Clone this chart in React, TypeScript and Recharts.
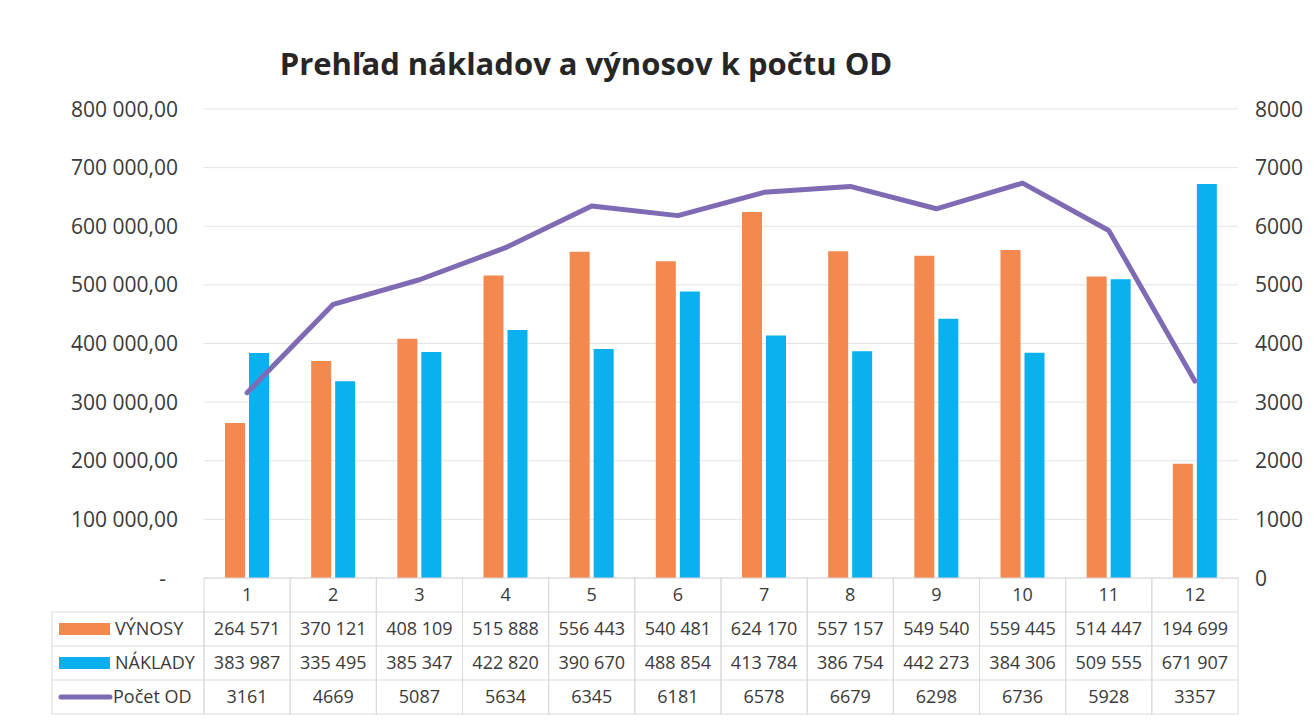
import React from 'react';
import { ComposedChart, Bar, Line, XAxis, YAxis, CartesianGrid } from 'recharts';

const categories = ['1', '2', '3', '4', '5', '6', '7', '8', '9', '10', '11', '12'];
const vynosy = [264571, 370121, 408109, 515888, 556443, 540481, 624170, 557157, 549540, 559445, 514447, 194699];
const naklady = [383987, 335495, 385347, 422820, 390670, 488854, 413784, 386754, 442273, 384306, 509555, 671907];
const pocetOD = [3161, 4669, 5087, 5634, 6345, 6181, 6578, 6679, 6298, 6736, 5928, 3357];
const leftTicks = [0, 100000, 200000, 300000, 400000, 500000, 600000, 700000, 800000];
const rightTicks = [0, 1000, 2000, 3000, 4000, 5000, 6000, 7000, 8000];
const seriesNames = ['VÝNOSY', 'NÁKLADY', 'Počet OD'];
const title = 'Prehľad nákladov a výnosov k počtu OD';

const data = categories.map((c, i) => ({ name: c, vynosy: vynosy[i], naklady: naklady[i], pocet: pocetOD[i] }));

const W = 1316;
const H = 723;
const PLOT_LEFT = 204;
const PLOT_RIGHT = 1238;
const PLOT_TOP = 109;
const PLOT_BOTTOM = 578;
const ROW_H = 34;
const COL_W = (PLOT_RIGHT - PLOT_LEFT) / categories.length;
const FONT = '"Open Sans", sans-serif';
const TEXT = '#3a3a3a';
const GRID = '#e4e4e4';
const BORDER = '#dadada';
const ORANGE = '#F4894F';
const BLUE = '#0BB0EF';
const PURPLE = '#7E6BB4';

function group(n: number): string {
  const s = Math.round(n).toString();
  return s.replace(/\B(?=(\d{3})+(?!\d))/g, ' ');
}
function fmtLeft(n: number): string {
  if (n === 0) return '-';
  return group(n) + ',00';
}

function LeftTick(props: any) {
  const { x, y, payload } = props;
  const zero = payload.value === 0;
  return (
    <text x={x + (zero ? -12 : 0)} y={y} dy="0.36em" textAnchor="end" fill={TEXT} fontSize={21} fontFamily={FONT}>
      {fmtLeft(payload.value)}
    </text>
  );
}

function RightTick(props: any) {
  const { x, y, payload } = props;
  return (
    <text x={x} y={y} dy="0.36em" textAnchor="start" fill={TEXT} fontSize={21} fontFamily={FONT}>
      {payload.value}
    </text>
  );
}

function TableTick(props: any) {
  const { x, y, payload, index } = props;
  const top = y;
  const left = x - COL_W / 2;
  const values = [group(vynosy[index]), group(naklady[index]), String(pocetOD[index])];
  const legendLeft = 52;
  return (
    <g>
      <rect x={left} y={top} width={COL_W} height={ROW_H * 4} fill="none" stroke={BORDER} strokeWidth={1} />
      {[1, 2, 3].map((r) => (
        <line key={r} x1={left} x2={left + COL_W} y1={top + ROW_H * r} y2={top + ROW_H * r} stroke={BORDER} strokeWidth={1} />
      ))}
      <text x={x} y={top + ROW_H / 2} dy="0.36em" textAnchor="middle" fill={TEXT} fontSize={18} fontFamily={FONT}>
        {payload.value}
      </text>
      {values.map((v, r) => (
        <text key={r} x={x} y={top + ROW_H * (r + 1.5)} dy="0.36em" textAnchor="middle" fill={TEXT} fontSize={18} fontFamily={FONT}>
          {v}
        </text>
      ))}
      {index === 0 && (
        <g>
          <rect x={legendLeft} y={top + ROW_H} width={left - legendLeft} height={ROW_H * 3} fill="none" stroke={BORDER} strokeWidth={1} />
          {[2, 3].map((r) => (
            <line key={r} x1={legendLeft} x2={left} y1={top + ROW_H * r} y2={top + ROW_H * r} stroke={BORDER} strokeWidth={1} />
          ))}
          <rect x={59} y={top + ROW_H * 1.5 - 6} width={51} height={12} fill={ORANGE} />
          <rect x={59} y={top + ROW_H * 2.5 - 6} width={51} height={12} fill={BLUE} />
          <line x1={61} x2={110} y1={top + ROW_H * 3.5} y2={top + ROW_H * 3.5} stroke={PURPLE} strokeWidth={5} strokeLinecap="round" />
          {seriesNames.map((s, r) => (
            <text key={s} x={r === 2 ? 113 : 115} y={top + ROW_H * (r + 1.5)} dy="0.36em" textAnchor="start" fill={TEXT} fontSize={18} fontFamily={FONT}>
              {s}
            </text>
          ))}
        </g>
      )}
    </g>
  );
}

export default function App() {
  return (
    <div style={{ position: 'absolute', left: 0, top: 0, width: W, height: H, background: '#fff', fontFamily: FONT }}>
      <svg width={W} height={100} style={{ position: 'absolute', left: 0, top: 0 }}>
        <text x={586} y={75} textAnchor="middle" fontSize={31} fontWeight={700} fill="#262626" fontFamily={FONT}>
          {title}
        </text>
      </svg>
      <div style={{ position: 'absolute', left: 0, top: 0 }}>
        <ComposedChart
          width={W}
          height={H}
          data={data}
          margin={{ top: PLOT_TOP, right: 0, bottom: 0, left: 0 }}
          barGap={4}
          barSize={20}
        >
          <CartesianGrid vertical={false} stroke={GRID} yAxisId="left" />
          <XAxis
            dataKey="name"
            height={H - PLOT_BOTTOM}
            axisLine={false}
            tickLine={false}
            tickSize={0}
            tickMargin={0}
            interval={0}
            tick={<TableTick />}
          />
          <YAxis
            yAxisId="left"
            orientation="left"
            width={PLOT_LEFT}
            domain={[0, 800000]}
            ticks={leftTicks}
            axisLine={false}
            tickLine={false}
            tickSize={0}
            tickMargin={26}
            tick={<LeftTick />}
            interval={0}
          />
          <YAxis
            yAxisId="right"
            orientation="right"
            width={W - PLOT_RIGHT}
            domain={[0, 8000]}
            ticks={rightTicks}
            axisLine={false}
            tickLine={false}
            tickSize={0}
            tickMargin={17}
            tick={<RightTick />}
            interval={0}
          />
          <Bar yAxisId="left" dataKey="vynosy" name="VÝNOSY" fill={ORANGE} isAnimationActive={false} />
          <Bar yAxisId="left" dataKey="naklady" name="NÁKLADY" fill={BLUE} isAnimationActive={false} />
          <Line
            yAxisId="right"
            dataKey="pocet"
            name="Počet OD"
            type="linear"
            stroke={PURPLE}
            strokeWidth={5}
            strokeLinecap="round"
            strokeLinejoin="round"
            dot={false}
            activeDot={false}
            isAnimationActive={false}
          />
        </ComposedChart>
      </div>
    </div>
  );
}
